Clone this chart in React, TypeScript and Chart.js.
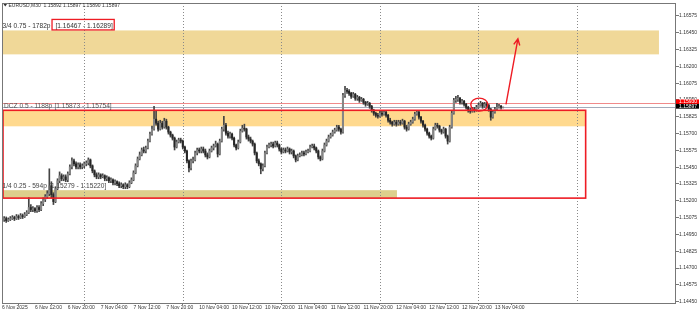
import React, { useEffect, useRef } from 'react';
import { Chart, registerables } from 'chart.js';

Chart.register(...registerables);

// ---- data -------------------------------------------------------------
const symbolTitle = 'EURUSD,M30  1.15892 1.15897 1.15890 1.15897';

const timeLabels = [
  '6 Nov 2025', '6 Nov 12:00', '6 Nov 20:00', '7 Nov 04:00', '7 Nov 12:00', '7 Nov 20:00',
  '10 Nov 04:00', '10 Nov 12:00', '10 Nov 20:00', '11 Nov 04:00', '11 Nov 12:00', '11 Nov 20:00',
  '12 Nov 04:00', '12 Nov 12:00', '12 Nov 20:00', '13 Nov 04:00',
];
const timeLabelBars = [0, 16, 32, 48, 64, 80, 96, 112, 128, 144, 160, 176, 192, 208, 224, 240];
const daySeparatorBars = [40, 88, 136, 184, 232, 280];

const priceTicks = [
  1.1445, 1.14575, 1.147, 1.14825, 1.1495, 1.15075, 1.152, 1.15325, 1.1545,
  1.15575, 1.157, 1.15825, 1.1595, 1.16075, 1.162, 1.16325, 1.1645, 1.16575,
];

const opens = [
  1.15053,1.15061,1.15068,1.15053,1.15061,1.15068,1.15076,1.15068,1.15083,1.15076,
  1.15090,1.15083,1.15098,1.15113,1.15150,1.15135,1.15142,1.15127,1.15150,1.15135,
  1.15179,1.15209,1.15231,1.15253,1.15312,1.15246,1.15194,1.15290,1.15349,1.15386,
  1.15364,1.15378,1.15356,1.15401,1.15452,1.15497,1.15475,1.15452,1.15467,1.15452,
  1.15460,1.15475,1.15482,1.15504,1.15460,1.15423,1.15393,1.15378,1.15393,1.15378,
  1.15386,1.15364,1.15371,1.15349,1.15356,1.15334,1.15342,1.15327,1.15312,1.15319,
  1.15305,1.15319,1.15305,1.15334,1.15356,1.15408,1.15460,1.15511,1.15541,1.15578,
  1.15570,1.15593,1.15644,1.15696,1.15733,1.15807,1.15777,1.15733,1.15777,1.15748,
  1.15792,1.15748,1.15711,1.15689,1.15666,1.15600,1.15637,1.15652,1.15644,1.15600,
  1.15570,1.15497,1.15445,1.15497,1.15504,1.15556,1.15578,1.15570,1.15585,1.15570,
  1.15541,1.15526,1.15570,1.15593,1.15607,1.15622,1.15548,1.15644,1.15733,1.15762,
  1.15703,1.15681,1.15696,1.15666,1.15615,1.15593,1.15637,1.15718,1.15740,1.15733,
  1.15674,1.15659,1.15644,1.15622,1.15556,1.15497,1.15475,1.15438,1.15460,1.15556,
  1.15600,1.15615,1.15622,1.15607,1.15630,1.15615,1.15585,1.15563,1.15578,1.15570,
  1.15585,1.15563,1.15570,1.15534,1.15504,1.15534,1.15541,1.15556,1.15548,1.15563,
  1.15570,1.15600,1.15607,1.15593,1.15570,1.15526,1.15511,1.15570,1.15615,1.15644,
  1.15674,1.15689,1.15711,1.15726,1.15748,1.15733,1.15711,1.15984,1.16021,1.16014,
  1.15999,1.15977,1.15992,1.15962,1.15969,1.15947,1.15955,1.15932,1.15918,1.15925,
  1.15903,1.15873,1.15851,1.15836,1.15829,1.15851,1.15844,1.15859,1.15836,1.15799,
  1.15785,1.15770,1.15785,1.15770,1.15785,1.15777,1.15792,1.15748,1.15733,1.15770,
  1.15785,1.15807,1.15844,1.15859,1.15822,1.15792,1.15762,1.15733,1.15703,1.15681,
  1.15666,1.15733,1.15762,1.15755,1.15726,1.15711,1.15733,1.15681,1.15644,1.15748,
  1.15851,1.15947,1.15955,1.15962,1.15932,1.15940,1.15918,1.15895,1.15873,1.15866,
  1.15881,1.15873,1.15895,1.15910,1.15925,1.15903,1.15918,1.15910,1.15881,1.15822,
  1.15859,1.15881,1.15895,1.15903,1.15892,
];
const highs = [
  1.15076,1.15083,1.15080,1.15073,1.15083,1.15090,1.15086,1.15098,1.15095,1.15105,
  1.15102,1.15113,1.15127,1.15223,1.15172,1.15157,1.15150,1.15164,1.15164,1.15194,
  1.15223,1.15246,1.15275,1.15438,1.15342,1.15260,1.15305,1.15364,1.15415,1.15401,
  1.15393,1.15393,1.15415,1.15467,1.15519,1.15511,1.15489,1.15482,1.15482,1.15475,
  1.15489,1.15497,1.15519,1.15511,1.15467,1.15430,1.15408,1.15408,1.15401,1.15401,
  1.15393,1.15386,1.15378,1.15371,1.15364,1.15356,1.15349,1.15342,1.15334,1.15327,
  1.15334,1.15327,1.15349,1.15371,1.15423,1.15475,1.15526,1.15563,1.15593,1.15600,
  1.15607,1.15659,1.15711,1.15755,1.15903,1.15866,1.15792,1.15799,1.15792,1.15814,
  1.15807,1.15755,1.15718,1.15696,1.15674,1.15652,1.15666,1.15666,1.15652,1.15607,
  1.15578,1.15504,1.15511,1.15526,1.15570,1.15593,1.15593,1.15600,1.15600,1.15585,
  1.15556,1.15585,1.15607,1.15622,1.15644,1.15630,1.15659,1.15748,1.15829,1.15777,
  1.15718,1.15711,1.15703,1.15674,1.15622,1.15652,1.15733,1.15762,1.15770,1.15740,
  1.15689,1.15674,1.15652,1.15630,1.15563,1.15511,1.15482,1.15475,1.15570,1.15615,
  1.15630,1.15637,1.15637,1.15644,1.15644,1.15622,1.15593,1.15593,1.15593,1.15600,
  1.15593,1.15585,1.15578,1.15541,1.15548,1.15556,1.15570,1.15570,1.15578,1.15585,
  1.15615,1.15622,1.15622,1.15600,1.15578,1.15534,1.15585,1.15630,1.15659,1.15689,
  1.15703,1.15726,1.15740,1.15762,1.15762,1.15740,1.15999,1.16051,1.16036,1.16028,
  1.16006,1.16006,1.15999,1.15984,1.15977,1.15969,1.15962,1.15940,1.15940,1.15932,
  1.15910,1.15881,1.15859,1.15851,1.15866,1.15866,1.15873,1.15866,1.15844,1.15814,
  1.15792,1.15799,1.15799,1.15799,1.15799,1.15807,1.15799,1.15762,1.15785,1.15799,
  1.15822,1.15859,1.15873,1.15866,1.15829,1.15799,1.15770,1.15740,1.15711,1.15689,
  1.15748,1.15777,1.15777,1.15762,1.15733,1.15748,1.15740,1.15689,1.15762,1.15866,
  1.15962,1.15977,1.15984,1.15969,1.15955,1.15947,1.15925,1.15903,1.15888,1.15895,
  1.15895,1.15910,1.15925,1.15940,1.15932,1.15932,1.15932,1.15918,1.15888,1.15873,
  1.15895,1.15925,1.15918,1.15910,1.15897,
];
const lows = [
  1.15039,1.15046,1.15039,1.15046,1.15053,1.15061,1.15053,1.15061,1.15061,1.15068,
  1.15068,1.15076,1.15090,1.15105,1.15120,1.15120,1.15113,1.15113,1.15120,1.15127,
  1.15164,1.15194,1.15216,1.15238,1.15223,1.15172,1.15186,1.15282,1.15334,1.15349,
  1.15349,1.15342,1.15342,1.15393,1.15438,1.15460,1.15438,1.15438,1.15438,1.15438,
  1.15445,1.15460,1.15467,1.15445,1.15408,1.15378,1.15364,1.15364,1.15364,1.15371,
  1.15349,1.15349,1.15334,1.15334,1.15319,1.15319,1.15312,1.15297,1.15297,1.15290,
  1.15290,1.15290,1.15297,1.15327,1.15349,1.15401,1.15452,1.15504,1.15534,1.15556,
  1.15556,1.15585,1.15637,1.15689,1.15726,1.15762,1.15718,1.15726,1.15733,1.15740,
  1.15733,1.15696,1.15674,1.15652,1.15578,1.15593,1.15630,1.15630,1.15585,1.15556,
  1.15482,1.15415,1.15430,1.15482,1.15497,1.15541,1.15556,1.15556,1.15556,1.15526,
  1.15511,1.15519,1.15563,1.15578,1.15600,1.15526,1.15541,1.15637,1.15718,1.15689,
  1.15666,1.15666,1.15652,1.15600,1.15578,1.15585,1.15630,1.15711,1.15718,1.15659,
  1.15644,1.15630,1.15607,1.15541,1.15482,1.15460,1.15401,1.15423,1.15452,1.15548,
  1.15593,1.15600,1.15593,1.15600,1.15600,1.15570,1.15548,1.15556,1.15556,1.15563,
  1.15548,1.15548,1.15519,1.15489,1.15497,1.15526,1.15534,1.15534,1.15541,1.15556,
  1.15563,1.15593,1.15578,1.15556,1.15511,1.15497,1.15504,1.15563,1.15607,1.15637,
  1.15666,1.15681,1.15703,1.15718,1.15718,1.15696,1.15703,1.15969,1.15999,1.15984,
  1.15962,1.15969,1.15947,1.15947,1.15932,1.15940,1.15918,1.15903,1.15910,1.15888,
  1.15859,1.15836,1.15822,1.15814,1.15822,1.15829,1.15836,1.15822,1.15785,1.15770,
  1.15755,1.15762,1.15755,1.15762,1.15762,1.15770,1.15733,1.15718,1.15726,1.15762,
  1.15777,1.15799,1.15836,1.15807,1.15777,1.15748,1.15718,1.15689,1.15666,1.15652,
  1.15659,1.15726,1.15740,1.15711,1.15696,1.15703,1.15666,1.15622,1.15637,1.15740,
  1.15844,1.15932,1.15940,1.15918,1.15918,1.15903,1.15881,1.15859,1.15851,1.15859,
  1.15859,1.15866,1.15888,1.15903,1.15888,1.15895,1.15895,1.15866,1.15799,1.15814,
  1.15851,1.15873,1.15888,1.15881,1.15890,
];
const closes = [
  1.15061,1.15068,1.15053,1.15061,1.15068,1.15076,1.15068,1.15083,1.15076,1.15090,
  1.15083,1.15098,1.15113,1.15150,1.15135,1.15142,1.15127,1.15150,1.15135,1.15179,
  1.15209,1.15231,1.15253,1.15312,1.15246,1.15194,1.15290,1.15349,1.15386,1.15364,
  1.15378,1.15356,1.15401,1.15452,1.15497,1.15475,1.15452,1.15467,1.15452,1.15460,
  1.15475,1.15482,1.15504,1.15460,1.15423,1.15393,1.15378,1.15393,1.15378,1.15386,
  1.15364,1.15371,1.15349,1.15356,1.15334,1.15342,1.15327,1.15312,1.15319,1.15305,
  1.15319,1.15305,1.15334,1.15356,1.15408,1.15460,1.15511,1.15541,1.15578,1.15570,
  1.15593,1.15644,1.15696,1.15733,1.15807,1.15777,1.15733,1.15777,1.15748,1.15792,
  1.15748,1.15711,1.15689,1.15666,1.15600,1.15637,1.15652,1.15644,1.15600,1.15570,
  1.15497,1.15445,1.15497,1.15504,1.15556,1.15578,1.15570,1.15585,1.15570,1.15541,
  1.15526,1.15570,1.15593,1.15607,1.15622,1.15548,1.15644,1.15733,1.15762,1.15703,
  1.15681,1.15696,1.15666,1.15615,1.15593,1.15637,1.15718,1.15740,1.15733,1.15674,
  1.15659,1.15644,1.15622,1.15556,1.15497,1.15475,1.15438,1.15460,1.15556,1.15600,
  1.15615,1.15622,1.15607,1.15630,1.15615,1.15585,1.15563,1.15578,1.15570,1.15585,
  1.15563,1.15570,1.15534,1.15504,1.15534,1.15541,1.15556,1.15548,1.15563,1.15570,
  1.15600,1.15607,1.15593,1.15570,1.15526,1.15511,1.15570,1.15615,1.15644,1.15674,
  1.15689,1.15711,1.15726,1.15748,1.15733,1.15711,1.15984,1.16021,1.16014,1.15999,
  1.15977,1.15992,1.15962,1.15969,1.15947,1.15955,1.15932,1.15918,1.15925,1.15903,
  1.15873,1.15851,1.15836,1.15829,1.15851,1.15844,1.15859,1.15836,1.15799,1.15785,
  1.15770,1.15785,1.15770,1.15785,1.15777,1.15792,1.15748,1.15733,1.15770,1.15785,
  1.15807,1.15844,1.15859,1.15822,1.15792,1.15762,1.15733,1.15703,1.15681,1.15666,
  1.15733,1.15762,1.15755,1.15726,1.15711,1.15733,1.15681,1.15644,1.15748,1.15851,
  1.15947,1.15955,1.15962,1.15932,1.15940,1.15918,1.15895,1.15873,1.15866,1.15881,
  1.15873,1.15895,1.15910,1.15925,1.15903,1.15918,1.15910,1.15881,1.15822,1.15859,
  1.15881,1.15895,1.15903,1.15895,1.15897,
];

// zones (price bands drawn by the indicator)
const zoneNames = ['3/4 0.75 - 1782p', 'DCZ 0.5 - 1188p', '1/4 0.25 - 594p'];
const zoneHighs = [1.16467, 1.15873, 1.15279];
const zoneLows = [1.16289, 1.15754, 1.1522];
const zoneEndBars = [319.9, 284.2, 192.3];

// big box, marked levels, arrow
const boxHigh = 1.15873;
const boxLow = 1.1522;
const boxEndBar = 284.2;
const bidPrice = 1.15897;
const askPrice = 1.1593;
const circleBar = 232.4;
const circlePrice = 1.15915;
const arrowFrom = { bar: 245.4, price: 1.15918 };
const arrowTo = { bar: 251.2, price: 1.16405 };

// ---- styles -----------------------------------------------------------
const FONT = '"Liberation Sans", Arial, sans-serif';
const zoneColors = ['#f0d898', '#ffd98e', '#ddcf8c'];
const zoneTextColors = ['#333333', '#555555', '#444444'];
const RED = '#ee1c24';
const FRAME = '#777777';

const overlayPlugin = {
  id: 'mt4Overlay',
  beforeDatasetsDraw(chart: any) {
    const { ctx, chartArea: a, scales } = chart;
    const x = scales.x;
    const y = scales.y;
    ctx.save();
    zoneHighs.forEach((hi, i) => {
      const yt = y.getPixelForValue(hi);
      const yb = y.getPixelForValue(zoneLows[i]);
      const xr = x.getPixelForValue(zoneEndBars[i]);
      ctx.fillStyle = zoneColors[i];
      ctx.fillRect(a.left + 1, yt, xr - a.left - 1, yb - yt);
    });
    ctx.strokeStyle = '#8a8a8a';
    ctx.lineWidth = 1;
    ctx.setLineDash([1, 2]);
    daySeparatorBars.forEach((b) => {
      const px = Math.round(x.getPixelForValue(b)) + 0.5;
      ctx.beginPath();
      ctx.moveTo(px, a.top);
      ctx.lineTo(px, a.bottom);
      ctx.stroke();
    });
    ctx.setLineDash([]);
    const ya = Math.round(y.getPixelForValue(askPrice)) + 0.5;
    ctx.strokeStyle = '#f08a8a';
    ctx.beginPath();
    ctx.moveTo(a.left, ya);
    ctx.lineTo(a.right, ya);
    ctx.stroke();
    const yb = Math.round(y.getPixelForValue(bidPrice)) + 0.5;
    ctx.strokeStyle = '#a3abbb';
    ctx.beginPath();
    ctx.moveTo(a.left, yb);
    ctx.lineTo(a.right, yb);
    ctx.stroke();
    ctx.restore();
  },
  afterDatasetsDraw(chart: any) {
    const { ctx, chartArea: a, scales } = chart;
    const x = scales.x;
    const y = scales.y;
    ctx.save();
    const bt = y.getPixelForValue(boxHigh);
    const bb = y.getPixelForValue(boxLow);
    const br = x.getPixelForValue(boxEndBar);
    ctx.strokeStyle = RED;
    ctx.lineWidth = 1.6;
    ctx.strokeRect(a.left + 1, bt, br - a.left - 1, bb - bt);

    ctx.font = `6.6px ${FONT}`;
    ctx.textBaseline = 'alphabetic';
    zoneHighs.forEach((hi, i) => {
      const yt = y.getPixelForValue(hi);
      const base = yt - 2.6;
      const lx = i === 1 ? a.left + 2 : a.left + 0.5;
      const label = zoneNames[i];
      const bracket = `[${hi.toFixed(5)} - ${zoneLows[i].toFixed(5)}]`;
      ctx.fillStyle = zoneTextColors[i];
      ctx.textAlign = 'left';
      ctx.fillText(label, lx, base);
      const gap = i === 0 ? 5 : 2.2;
      const bx = lx + ctx.measureText(label).width + gap;
      ctx.fillText(bracket, bx, base);
      if (i === 0) {
        const bw = ctx.measureText(bracket).width;
        ctx.strokeStyle = RED;
        ctx.lineWidth = 1.3;
        ctx.strokeRect(bx - 3.5, yt - 11, bw + 5, 10.5);
      }
    });

    ctx.strokeStyle = RED;
    ctx.lineWidth = 1.4;
    ctx.beginPath();
    ctx.ellipse(x.getPixelForValue(circleBar), y.getPixelForValue(circlePrice), 8.5, 6.5, 0, 0, Math.PI * 2);
    ctx.stroke();

    const x0 = x.getPixelForValue(arrowFrom.bar);
    const y0 = y.getPixelForValue(arrowFrom.price);
    const x1 = x.getPixelForValue(arrowTo.bar);
    const y1 = y.getPixelForValue(arrowTo.price);
    ctx.lineWidth = 1.4;
    ctx.beginPath();
    ctx.moveTo(x0, y0);
    ctx.lineTo(x1, y1);
    const ang = Math.atan2(y1 - y0, x1 - x0);
    const hl = 7;
    ctx.moveTo(x1 - hl * Math.cos(ang - 0.45), y1 - hl * Math.sin(ang - 0.45));
    ctx.lineTo(x1, y1);
    ctx.lineTo(x1 - hl * Math.cos(ang + 0.45), y1 - hl * Math.sin(ang + 0.45));
    ctx.stroke();
    ctx.restore();
  },
  afterDraw(chart: any) {
    const { ctx, chartArea: a, scales } = chart;
    const y = scales.y;
    ctx.save();
    ctx.strokeStyle = FRAME;
    ctx.lineWidth = 1;
    ctx.strokeRect(a.left + 0.5, a.top + 0.5, a.right - a.left - 1, a.bottom - a.top);
    ctx.fillStyle = '#333';
    ctx.beginPath();
    ctx.moveTo(a.left + 1.5, 4);
    ctx.lineTo(a.left + 5, 4);
    ctx.lineTo(a.left + 3.25, 6.5);
    ctx.closePath();
    ctx.fill();
    ctx.font = `5px ${FONT}`;
    ctx.textAlign = 'left';
    ctx.textBaseline = 'middle';
    ctx.fillText(symbolTitle, a.left + 6.5, 5.5);
    const tag = (price: number, bg: string) => {
      const py = y.getPixelForValue(price);
      ctx.fillStyle = bg;
      ctx.fillRect(a.right, py - 3.2, 23, 4.8);
      ctx.fillStyle = '#ffffff';
      ctx.font = `5px ${FONT}`;
      ctx.fillText(price.toFixed(5), a.right + 3, py - 0.7);
    };
    tag(askPrice, '#ff0000');
    tag(bidPrice, '#000000');
    ctx.restore();
  },
};

export default function App() {
  const ref = useRef<HTMLCanvasElement | null>(null);

  useEffect(() => {
    document.body.style.margin = '0';
    const canvas = ref.current;
    if (!canvas) return;
    const bars = closes.map((_, i) => i);
    const chart = new Chart(canvas, {
      type: 'bar',
      data: {
        datasets: [
          {
            label: 'wick',
            data: bars.map((i) => ({ x: i, y: [lows[i], highs[i]] })) as any,
            backgroundColor: '#444444',
            barThickness: 1,
            grouped: false,
            borderWidth: 0,
            order: 2,
          } as any,
          {
            label: 'body',
            data: bars.map((i) => ({ x: i, y: [opens[i], closes[i]] })) as any,
            backgroundColor: (c: any) => {
              const i = c.dataIndex;
              return closes[i] >= opens[i] ? '#858585' : '#262626';
            },
            barThickness: 1.4,
            grouped: false,
            borderWidth: 0,
            order: 1,
          } as any,
        ],
      },
      options: {
        animation: false,
        responsive: false,
        maintainAspectRatio: false,
        devicePixelRatio: 1,
        layout: { padding: { left: 2, top: 1, right: 0, bottom: 0 } },
        plugins: { legend: { display: false }, tooltip: { enabled: false } },
        scales: {
          x: {
            type: 'linear',
            min: -0.05,
            max: 328.2,
            offset: false,
            border: { display: false },
            grid: { drawOnChartArea: false, drawTicks: true, tickLength: 2, color: FRAME },
            ticks: {
              align: 'start',
              autoSkip: false,
              maxRotation: 0,
              padding: 0,
              color: '#333',
              font: { size: 5, family: FONT },
              callback: (_v: any, idx: number) => timeLabels[idx],
            },
            afterBuildTicks: (s: any) => {
              s.ticks = timeLabelBars.map((v) => ({ value: v }));
            },
            afterFit: (s: any) => {
              s.height = 11;
            },
          } as any,
          y: {
            type: 'linear',
            position: 'right',
            min: 1.1444,
            max: 1.16671,
            border: { display: false },
            grid: { drawOnChartArea: false, drawTicks: true, tickLength: 3, color: FRAME },
            ticks: {
              padding: 0,
              color: '#333',
              font: { size: 5, family: FONT },
              callback: (v: any) => Number(v).toFixed(5),
            },
            afterBuildTicks: (s: any) => {
              s.ticks = priceTicks.map((v) => ({ value: v }));
            },
            afterFit: (s: any) => {
              s.width = 24;
            },
          } as any,
        },
      },
      plugins: [overlayPlugin],
    });
    return () => chart.destroy();
  }, []);

  return (
    <div style={{ width: 700, height: 314, background: '#ffffff' }}>
      <canvas ref={ref} width={700} height={314} style={{ display: 'block' }} />
    </div>
  );
}
